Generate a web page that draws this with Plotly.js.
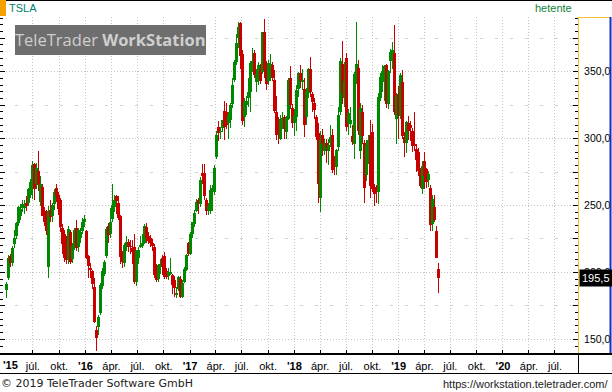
<!DOCTYPE html>
<html><head><meta charset="utf-8">
<script src="https://cdn.plot.ly/plotly-3.0.1.min.js"></script>
<style>html,body{margin:0;padding:0;background:#fff}#chart{width:612px;height:392px}</style>
</head><body><div id="chart"></div>
<script>
const weeks = ['2015-03-30','2015-04-06','2015-04-13','2015-04-20','2015-04-27','2015-05-04','2015-05-11','2015-05-18','2015-05-25','2015-06-01','2015-06-08','2015-06-15','2015-06-22','2015-06-29','2015-07-06','2015-07-13','2015-07-20','2015-07-27','2015-08-03','2015-08-10','2015-08-17','2015-08-24','2015-08-31','2015-09-07','2015-09-14','2015-09-21','2015-09-28','2015-10-05','2015-10-12','2015-10-19','2015-10-26','2015-11-02','2015-11-09','2015-11-16','2015-11-23','2015-11-30','2015-12-07','2015-12-14','2015-12-21','2015-12-28',
'2016-01-04','2016-01-11','2016-01-18','2016-01-25','2016-02-01','2016-02-08','2016-02-15','2016-02-22','2016-02-29','2016-03-07','2016-03-14','2016-03-21','2016-03-28','2016-04-04','2016-04-11','2016-04-18','2016-04-25','2016-05-02','2016-05-09','2016-05-16','2016-05-23','2016-05-30','2016-06-06','2016-06-13','2016-06-20','2016-06-27','2016-07-04','2016-07-11','2016-07-18','2016-07-25','2016-08-01','2016-08-08','2016-08-15','2016-08-22','2016-08-29','2016-09-05','2016-09-12','2016-09-19','2016-09-26','2016-10-03','2016-10-10','2016-10-17','2016-10-24','2016-10-31','2016-11-07','2016-11-14','2016-11-21','2016-11-28','2016-12-05','2016-12-12','2016-12-19','2016-12-26',
'2017-01-02','2017-01-09','2017-01-16','2017-01-23','2017-01-30','2017-02-06','2017-02-13','2017-02-20','2017-02-27','2017-03-06','2017-03-13','2017-03-20','2017-03-27','2017-04-03','2017-04-10','2017-04-17','2017-04-24','2017-05-01','2017-05-08','2017-05-15','2017-05-22','2017-05-29','2017-06-05','2017-06-12','2017-06-19','2017-06-26','2017-07-03','2017-07-10','2017-07-17','2017-07-24','2017-07-31','2017-08-07','2017-08-14','2017-08-21','2017-08-28','2017-09-04','2017-09-11','2017-09-18','2017-09-25','2017-10-02','2017-10-09','2017-10-16','2017-10-23','2017-10-30','2017-11-06','2017-11-13','2017-11-20','2017-11-27','2017-12-04','2017-12-11','2017-12-18','2017-12-25',
'2018-01-01','2018-01-08','2018-01-15','2018-01-22','2018-01-29','2018-02-05','2018-02-12','2018-02-19','2018-02-26','2018-03-05','2018-03-12','2018-03-19','2018-03-26','2018-04-02','2018-04-09','2018-04-16','2018-04-23','2018-04-30','2018-05-07','2018-05-14','2018-05-21','2018-05-28','2018-06-04','2018-06-11','2018-06-18','2018-06-25','2018-07-02','2018-07-09','2018-07-16','2018-07-23','2018-07-30','2018-08-06','2018-08-13','2018-08-20','2018-08-27','2018-09-03','2018-09-10','2018-09-17','2018-09-24','2018-10-01','2018-10-08','2018-10-15','2018-10-22','2018-10-29','2018-11-05','2018-11-12','2018-11-19','2018-11-26','2018-12-03','2018-12-10','2018-12-17','2018-12-24','2018-12-31',
'2019-01-07','2019-01-14','2019-01-21','2019-01-28','2019-02-04','2019-02-11','2019-02-18','2019-02-25','2019-03-04','2019-03-11','2019-03-18','2019-03-25','2019-04-01','2019-04-08','2019-04-15','2019-04-22','2019-04-29','2019-05-06','2019-05-13','2019-05-20'];

const open = [187,196,212,207,221,227,237,242,248,248,252,252,258,264,281,266,276,253,264,246,243,204,247,242,251,263,258,254,233,229,224,209,230,210,220,233,219,226,231,238,
231,212,203,201,189,157,159,170,190,199,212,235,229,240,249,257,252,242,213,207,220,223,220,218,219,193,211,219,220,222,234,227,226,222,219,204,195,204,211,212,201,197,199,198,194,183,188,195,182,193,202,222,
214,229,236,246,254,251,274,274,254,247,246,260,260,286,309,305,308,321,320,312,314,326,344,357,375,386.7,363,316,325,330,335,356,364,342,348,352,350,380,351,343,350,355,344,320,307,300,314,316,305,315,345,323,
312,316,337,349,342,337,316,334,352,333,327,316,304,256,303,291,297,291,297,303,281,279,294,320,356,330,360,312,311,302,296,345,353,291,320,297,273,290,303,305,264,263,260,330,342,348,355,326,358,361,364,315,333,
317,342,301,297,312,310,306,296,292,290,276,262,283,277,269,263,236,249,231,202.5];

const high = [193,213,214,220,232,238,250,251,254,254,257,263,270,283,282,282,291,272,266,249,247,250,254,252,262,266,260,256,236,232,227,235,232,222,233,239,233,233,241,243,
232,213,207,202,196,160,168,192,203,209,234,237,248,266,258,258,257,243,216,222,227,225,224,224,229,217,219,227,229,236,237,230,228,225,221,206,206,210,213,215,203,203,211,199,197,189,197,197,194,204,214,223,
230,238,247,255,256,271,281,281,256,252,265,265,280,306,313,309,314,328,327,320,327,345,359,378,387,387,366,330,332,345,358,368,366,352,357,356,380,389.6,358,359,363,357,351,332,316,318,320,318,317,345,354,326,
322,340,350,355,352,345,338,353,361,335,330,318,312,306,307,300,300,300,310,307,287,292,324,360,373,357,364,322,324,310,350,387.5,359,327,325,299,299,303,314,311,266,265,334,349,355,355,356,351,367,372,385,334,339,
349,351,305,313,317,313,308,320,296,293,278,283,290,278,276,265,258,258,234.4,207.3];

const low = [181,194,204,205,218,225,235,239,245,244,246,250,256,255,254,262,261,250,242,235,228,196,238,238,247,253,243,230,214,208,206,206,206,207,217,216,215,222,229,234,
210,196,196,188,162,141,153,168,188,197,211,222,226,238,245,244,239,206,203,204,216,215,214,206,191,190,206,218,218,221,222,221,219,216,196,193,193,199,198,195,195,194,198,184,182,181,186,181,181,192,201,212,
213,226,234,245,244,249,266,254,243,243,244,246,258,285,298,300,305,299,307,300,308,323,342,355,368,352,310,309,318,324,320,350,345,335,340,341,348,345,336,340,343,343,319,299,296,299,307,300,300,314,322,308,
302,306,331,338,336,301,310,330,331,320,315,299,252,245,287,288,282,280,294,274,273,273,291,318,326,324,306,303,308,295,285,341,303,285,296,252,268,281,256,260,250,252,251,328,335,328,323,322,349,352,318,296,300,
315,300,286,289,299,298,290,291,275,272,263,259,262,263,264,230.7,231,238,210.6,184.3];

const close = [191,210.9,206.8,218.4,226,236.6,248.8,247.7,250.8,251,249.5,262.5,267.7,280,262,278,265.4,266.2,242.5,238,230.8,246,241.1,250.2,260,256.9,247.6,234,221,211,209,232.4,208,220,231.6,218,232,230.5,238,240,
211,205,202,191,162.6,151,166.6,190.3,201,207.5,232.7,227.8,237.6,250.1,254.5,253.7,240.8,211.5,207.6,220.3,223,219,218.8,215.5,193.2,216.5,216.8,220.4,222.3,234.8,225.8,223.2,222,219.6,198,194.5,205.4,206,204,196.6,196.5,200,200,190.6,188.6,185,196.6,181.5,192,202.5,213.3,213.7,
229,237.7,244.7,252.9,251.3,269.2,272,257,246,250,261.5,263,278.3,302.5,304,305.6,314,308.4,310,318,325,339.9,357.3,371.4,383.5,361.6,313.2,327.8,328.4,335.1,356.9,357.9,347.5,348,355.4,343.4,379.8,351.1,341.1,356.9,355.7,345.1,320.9,302.8,303,315,315.6,306.9,315.1,343.5,325.2,311.4,
316.6,336.2,349,342.8,343.8,310.4,335.5,352,335.1,327.2,321.4,301.5,266.1,299.3,296,297,294,295,301,276.8,278.9,291.8,317.7,358.2,333.6,343,308.9,318.9,313.6,297.2,348.2,355.5,305.5,322.8,301.7,263.2,295.2,299.1,264.8,262,258.8,260.9,330.9,346.4,350.5,354.3,325.8,350.5,365,366,319.8,332,317.7,
347.3,302.3,297,312.2,305.8,307.9,294.7,294.8,284.1,276,264.5,279.9,272,267.8,273.3,235.1,255,239.5,211,195.5];

const quarterTicks = ['2015-07-01','2015-10-01','2016-01-01','2016-04-01','2016-07-01','2016-10-01','2017-01-01','2017-04-01','2017-07-01','2017-10-01','2018-01-01','2018-04-01','2018-07-01','2018-10-01','2019-01-01','2019-04-01','2019-07-01','2019-10-01','2020-01-01','2020-04-01','2020-07-01'];
const quarterLabels = ['júl.','okt.',"<b>'16</b>",'ápr.','júl.','okt.',"<b>'17</b>",'ápr.','júl.','okt.',"<b>'18</b>",'ápr.','júl.','okt.',"<b>'19</b>",'ápr.','júl.','okt.',"<b>'20</b>",'ápr.','júl.'];
const firstYearLabel = "'15";
const priceTicks = [150,175,200,225,250,275,300,325,350,375];
const priceLabels = ['150,0','','200,0','','250,0','','300,0','','350,0',''];
const symbol = 'TSLA';
const period = 'hetente';

// ---- layout geometry (pixels) ----
const W = 612, H = 392, PL = 0, PR = 578, PT = 17, PB = 353;
const pw = PR - PL, ph = PB - PT;
const px = v => (v - PL) / pw;
const py = v => (PB - v) / ph;
const xRange = ['2015-03-08', '2020-09-19 12:00'];
const yRange = [139.8, 390.9];
const msPerPx = (Date.parse('2020-09-19T12:00:00Z') - Date.parse('2015-03-08T00:00:00Z')) / pw;

const UP = 'rgba(0,136,0,0.999)', DOWN = 'rgba(200,0,0,0.999)';
const cols = close.map((c, i) => c >= open[i] ? UP : DOWN);
const bodyBase = close.map((c, i) => Math.min(c, open[i]));
const bodyLen = close.map((c, i) => Math.max(Math.abs(c - open[i]), 0.8));
const wickLen = high.map((h, i) => h - low[i]);

const traces = [
  {type: 'bar', x: weeks, y: wickLen, base: low, width: 1 * msPerPx,
   marker: {color: cols, line: {width: 0}}, hoverinfo: 'skip', showlegend: false},
  {type: 'bar', x: weeks, y: bodyLen, base: bodyBase, width: 3 * msPerPx,
   marker: {color: cols, line: {width: 0}}, hoverinfo: 'skip', showlegend: false},
  {type: 'scatter', x: [], y: [], yaxis: 'y2', showlegend: false},
  {type: 'scatter', x: [], y: [], yaxis: 'y3', showlegend: false},
  {type: 'scatter', x: [], y: [], yaxis: 'y4', showlegend: false}
];

const gridCol = '#c4c4c4';
const layout = {
  width: W, height: H,
  margin: {l: PL, r: W - PR, t: PT, b: H - PB, pad: 0},
  paper_bgcolor: '#fff', plot_bgcolor: '#fff',
  font: {family: 'Liberation Sans, Arial, sans-serif', size: 11, color: '#000'},
  barmode: 'overlay', bargap: 0,
  showlegend: false,
  xaxis: {type: 'date', range: xRange, tickmode: 'array', tickvals: quarterTicks, ticktext: quarterLabels,
    ticks: 'inside', ticklen: 3, tickcolor: '#000', tickwidth: 1,
    showgrid: true, gridcolor: gridCol, griddash: '1px,2px', gridwidth: 1,
    showline: true, linecolor: '#000', linewidth: 2, zeroline: false,
    tickfont: {size: 11, color: '#000'}, ticklabelstandoff: 2, fixedrange: true},
  yaxis: {range: yRange, side: 'right', tickmode: 'array', tickvals: priceTicks, ticktext: priceLabels,
    ticks: 'inside', ticklen: 5, tickcolor: '#000', tickwidth: 1,
    minor: {dtick: 5, tick0: 0, ticks: 'inside', ticklen: 3, tickcolor: '#000', showgrid: false},
    showgrid: false, zeroline: false, showline: true, linecolor: '#f2c230', linewidth: 1,
    tickfont: {size: 10.5, color: '#000'}, ticklabelstandoff: 3, fixedrange: true},
  yaxis2: {overlaying: 'y', range: yRange, side: 'right', tick0: 0, dtick: 50, showticklabels: false, ticks: '',
    showgrid: true, gridcolor: gridCol, griddash: '1px,2px', zeroline: false, showline: false},
  yaxis3: {overlaying: 'y', range: yRange, side: 'right', tick0: 25, dtick: 50, showticklabels: false, ticks: '',
    showgrid: true, gridcolor: '#d0d0d0', griddash: '3px,12px', zeroline: false, showline: false},
  yaxis4: {overlaying: 'y', range: yRange, side: 'left', tickmode: 'array', tickvals: priceTicks, showticklabels: false,
    ticks: 'inside', ticklen: 5, tickcolor: '#000',
    minor: {dtick: 5, tick0: 0, ticks: 'inside', ticklen: 3, tickcolor: '#000', showgrid: false},
    showgrid: false, zeroline: false, showline: true, linecolor: '#000', linewidth: 1},
  shapes: [
    {type: 'line', xref: 'paper', yref: 'paper', x0: px(0), x1: px(W), y0: py(0.5), y1: py(0.5), line: {color: '#000', width: 1}},
    {type: 'rect', xref: 'paper', yref: 'paper', x0: px(0), x1: px(6), y0: py(16), y1: py(0), fillcolor: '#f5a100', line: {width: 0}},
    {type: 'rect', xref: 'paper', yref: 'paper', x0: px(15), x1: px(206), y0: py(55), y1: py(25), fillcolor: '#6e6e6e', line: {width: 0}, layer: 'above'},
    {type: 'line', xref: 'paper', yref: 'paper', x0: px(578), x1: px(611), y0: py(17.5), y1: py(17.5), line: {color: '#f2c230', width: 1}},
    {type: 'line', xref: 'paper', yref: 'paper', x0: px(610.5), x1: px(610.5), y0: py(17), y1: py(353), line: {color: '#1030c8', width: 2}},
    {type: 'line', xref: 'paper', yref: 'paper', x0: px(578), x1: px(W), y0: py(354), y1: py(354), line: {color: '#000', width: 2}},
    {type: 'line', xref: 'paper', yref: 'paper', x0: px(0), x1: px(W), y0: py(373.5), y1: py(373.5), line: {color: '#000', width: 1}},
    {type: 'line', xref: 'paper', yref: 'paper', x0: px(578.5), x1: px(578.5), y0: py(354), y1: py(373.5), line: {color: '#000', width: 1}}
  ],
  annotations: [
    {xref: 'paper', yref: 'paper', x: px(7), y: py(8.5), xanchor: 'left', yanchor: 'middle', showarrow: false,
     text: symbol, font: {size: 11, color: '#00806e'}},
    {xref: 'paper', yref: 'paper', x: px(574), y: py(8.5), xanchor: 'right', yanchor: 'middle', showarrow: false,
     text: period, font: {size: 11, color: '#12803c'}},
    {xref: 'paper', yref: 'paper', x: px(110.5), y: py(40), xanchor: 'center', yanchor: 'middle', showarrow: false,
     text: 'TeleTrader <b>WorkStation</b>', font: {family: 'Open Sans, sans-serif', size: 16.5, color: '#cfcfcf'}},
    {xref: 'paper', yref: 'paper', x: px(1), y: py(364.5), xanchor: 'left', yanchor: 'middle', showarrow: false,
     text: '<b>' + firstYearLabel + '</b>', font: {size: 11, color: '#000'}},
    {xref: 'paper', yref: 'paper', x: px(-1), y: py(383.5), xanchor: 'left', yanchor: 'middle', showarrow: false,
     text: '© 2019 TeleTrader Software GmbH', font: {family: 'DejaVu Sans, sans-serif', size: 11, color: '#222'}},
    {xref: 'paper', yref: 'paper', x: px(610), y: py(383.5), xanchor: 'right', yanchor: 'middle', showarrow: false,
     text: 'https://workstation.teletrader.com/', font: {size: 11, color: '#222'}},
    {xref: 'paper', yref: 'y', x: px(579), y: close[close.length - 1], xanchor: 'left', yanchor: 'middle', showarrow: false,
     text: close[close.length - 1].toFixed(1).replace('.', ','), bgcolor: '#000', borderpad: 2,
     font: {size: 11, color: '#fff'}}
  ]
};

Plotly.newPlot('chart', traces, layout, {displayModeBar: false, staticPlot: true});
</script>
</body></html>
